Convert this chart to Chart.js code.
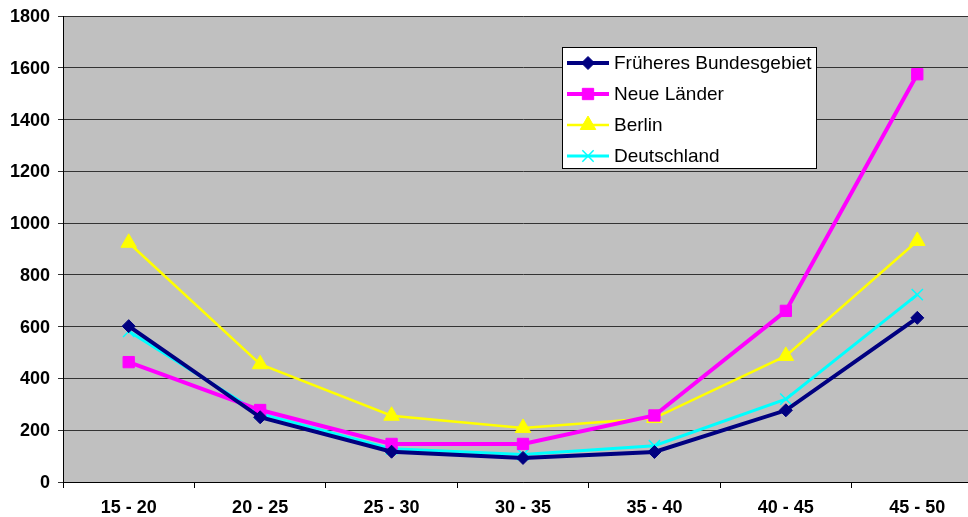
<!DOCTYPE html>
<html>
<head>
<meta charset="utf-8">
<script src="https://cdn.jsdelivr.net/npm/chart.js@4/dist/chart.umd.min.js"></script>
<style>
  html, body { margin: 0; padding: 0; background: #fff; overflow: hidden; }
  body { width: 968px; height: 517px; }
  /* plot area runs past the right edge of the picture, as in the original */
  #wrap { width: 985px; height: 517px; position: relative; }
</style>
</head>
<body>
<div id="wrap"><canvas id="chart"></canvas></div>
<script>
// Altersgruppen und Werte je Gebiet
const categories = ['15 - 20', '20 - 25', '25 - 30', '30 - 35', '35 - 40', '40 - 45', '45 - 50'];
const frueheresBundesgebiet = [602, 250, 117, 93, 116, 277, 634];
const neueLaender = [463, 278, 147, 147, 257, 661, 1575];
const berlin = [924, 455, 256, 209, 247, 487, 931];
const deutschland = [582, 264, 128, 106, 140, 320, 724];
const yTicks = { min: 0, max: 1800, step: 200 };

const FONT = '"Liberation Sans", Arial, sans-serif';

// grey plot background
const plotBg = {
  id: 'plotBg',
  beforeDraw(chart) {
    const { ctx, chartArea: a } = chart;
    ctx.save();
    ctx.fillStyle = '#c0c0c0';
    ctx.fillRect(a.left, a.top, a.right - a.left, a.bottom - a.top);
    ctx.strokeStyle = '#a0a0a0';
    ctx.beginPath();
    ctx.moveTo(a.left, a.top + 0.5);
    ctx.lineTo(a.right, a.top + 0.5);
    ctx.stroke();
    ctx.restore();
  }
};

// legend box inside the plot, like the Excel original
const boxLegend = {
  id: 'boxLegend',
  afterDraw(chart) {
    const { ctx, chartArea: a } = chart;
    const x = a.left + 499, y = a.top + 31, w = 254, h = 121;
    ctx.save();
    ctx.fillStyle = '#fff';
    ctx.fillRect(x, y, w, h);
    ctx.strokeStyle = '#000';
    ctx.lineWidth = 1;
    ctx.strokeRect(x + 0.5, y + 0.5, w, h);
    ctx.font = '19px ' + FONT;
    ctx.textBaseline = 'middle';
    chart.data.datasets.forEach((ds, i) => {
      const cy = y + 16 + i * 31;
      ctx.strokeStyle = ds.borderColor;
      ctx.lineWidth = ds.borderWidth;
      ctx.beginPath();
      ctx.moveTo(x + 5, cy);
      ctx.lineTo(x + 47, cy);
      ctx.stroke();
      ctx.fillStyle = ds.pointBackgroundColor;
      ctx.strokeStyle = ds.pointBorderColor;
      ctx.lineWidth = ds.pointBorderWidth;
      Chart.helpers.drawPoint(ctx, { pointStyle: ds.pointStyle, radius: ds.pointRadius, borderWidth: ds.pointBorderWidth }, x + 26, cy);
      ctx.fillStyle = '#000';
      ctx.fillText(ds.label, x + 52, cy + 1);
    });
    ctx.restore();
  }
};

new Chart(document.getElementById('chart'), {
  type: 'line',
  data: {
    labels: categories,
    datasets: [
      { label: 'Früheres Bundesgebiet', data: frueheresBundesgebiet, borderColor: '#000080', borderWidth: 4,
        pointStyle: 'rectRot', pointRadius: 6.5, pointBackgroundColor: '#000080', pointBorderColor: '#000080', pointBorderWidth: 1 },
      { label: 'Neue Länder', data: neueLaender, borderColor: '#ff00ff', borderWidth: 4,
        pointStyle: 'rect', pointRadius: 8, pointBackgroundColor: '#ff00ff', pointBorderColor: '#ff00ff', pointBorderWidth: 1 },
      { label: 'Berlin', data: berlin, borderColor: '#ffff00', borderWidth: 2.5,
        pointStyle: 'triangle', pointRadius: 9, pointBackgroundColor: '#ffff00', pointBorderColor: '#ffff00', pointBorderWidth: 1 },
      { label: 'Deutschland', data: deutschland, borderColor: '#00ffff', borderWidth: 3,
        pointStyle: 'crossRot', pointRadius: 8, pointBackgroundColor: '#00ffff', pointBorderColor: '#00ffff', pointBorderWidth: 1.5 },
    ],
  },
  options: {
    responsive: true,
    maintainAspectRatio: false,
    animation: false,
    layout: { autoPadding: false, padding: { top: 16, right: 2, left: 0, bottom: 0 } },
    plugins: { legend: { display: false }, tooltip: { enabled: false } },
    scales: {
      x: {
        offset: true,
        grid: { offset: true, drawOnChartArea: false, drawTicks: true, tickLength: 6, color: '#000' },
        border: { color: '#000', width: 1 },
        ticks: { color: '#000', font: { family: FONT, size: 18, weight: 'bold' }, padding: 9, maxRotation: 0 },
        afterFit(s) { s.height = 35; s.paddingLeft = 0; s.paddingRight = 0; },
      },
      y: {
        min: yTicks.min,
        max: yTicks.max,
        ticks: {
          stepSize: yTicks.step, color: '#000', font: { family: FONT, size: 18, weight: 'bold' }, padding: 8,
          labelOffset: 1,
          callback: v => String(v),
        },
        grid: { color: '#333', lineWidth: 1, tickLength: 5 },
        border: { color: '#000', width: 1 },
        afterFit(s) { s.width = 63; s.paddingTop = 0; s.paddingBottom = 0; },
      },
    },
  },
  plugins: [plotBg, boxLegend],
});
</script>
</body>
</html>
